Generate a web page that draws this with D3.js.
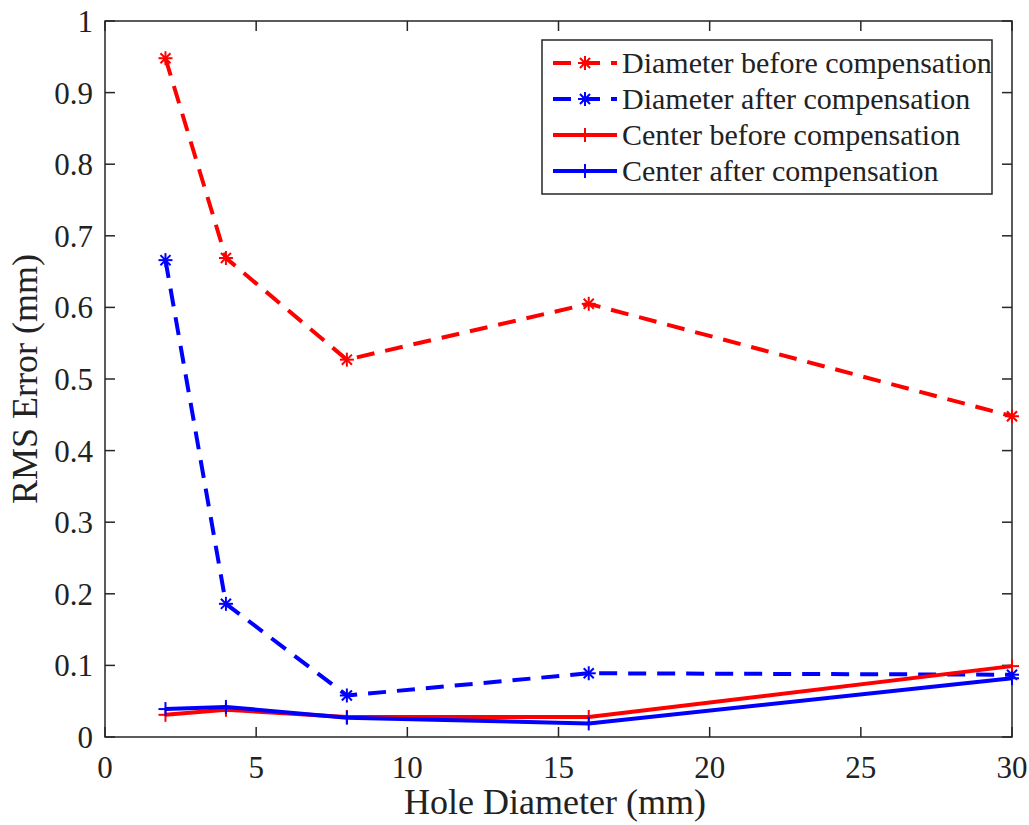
<!DOCTYPE html>
<html><head><meta charset="utf-8">
<script src="https://cdn.jsdelivr.net/npm/d3@7"></script>
<style>body{margin:0;background:#fff}svg{display:block}text{font-family:"Liberation Serif","Times New Roman",serif;fill:#222}</style>
</head><body><svg id="c" width="1029" height="825"></svg>
<script>
const xs = [2, 4, 8, 16, 30];
const diamBefore = [0.948, 0.669, 0.527, 0.605, 0.448];
const diamAfter = [0.666, 0.186, 0.058, 0.089, 0.087];
const centerBefore = [0.031, 0.038, 0.028, 0.028, 0.099];
const centerAfter = [0.039, 0.042, 0.027, 0.019, 0.082];
const xTicks = [0, 5, 10, 15, 20, 25, 30];
const yTicks = [0, 0.1, 0.2, 0.3, 0.4, 0.5, 0.6, 0.7, 0.8, 0.9, 1];
const seriesNames = ["Diameter before compensation","Diameter after compensation","Center before compensation","Center after compensation"];

const svg = d3.select("#c");
const L=105, R=1012, T=21, B=737;
const x = d3.scaleLinear().domain([0,30]).range([L,R]);
const y = d3.scaleLinear().domain([0,1]).range([B,T]);

const series = [
 {name:seriesNames[0], vals:diamBefore, color:"#ff0000", dash:"18,11", marker:"star"},
 {name:seriesNames[1], vals:diamAfter, color:"#0000ff", dash:"18,11", marker:"star"},
 {name:seriesNames[2], vals:centerBefore, color:"#ff0000", dash:null, marker:"plus"},
 {name:seriesNames[3], vals:centerAfter, color:"#0000ff", dash:null, marker:"plus"}
];

const g = svg.append("g");
g.append("rect").attr("x",L).attr("y",T).attr("width",R-L).attr("height",B-T).attr("fill","none").attr("stroke","#262626").attr("stroke-width",1.5);
const tl=10;
xTicks.forEach(t=>{
  g.append("line").attr("x1",x(t)).attr("x2",x(t)).attr("y1",B).attr("y2",B-tl).attr("stroke","#262626").attr("stroke-width",1.5);
  g.append("line").attr("x1",x(t)).attr("x2",x(t)).attr("y1",T).attr("y2",T+tl).attr("stroke","#262626").attr("stroke-width",1.5);
  g.append("text").attr("x",x(t)).attr("y",778).attr("text-anchor","middle").attr("font-size",31).text(d3.format("d")(t));
});
yTicks.forEach(t=>{
  g.append("line").attr("x1",L).attr("x2",L+tl).attr("y1",y(t)).attr("y2",y(t)).attr("stroke","#262626").attr("stroke-width",1.5);
  g.append("line").attr("x1",R).attr("x2",R-tl).attr("y1",y(t)).attr("y2",y(t)).attr("stroke","#262626").attr("stroke-width",1.5);
  g.append("text").attr("x",L-12).attr("y",y(t)+11).attr("text-anchor","end").attr("font-size",31).text(t===0||t===1?String(t):d3.format(".1f")(t));
});
g.append("text").attr("x",555).attr("y",814).attr("text-anchor","middle").attr("font-size",36).text("Hole Diameter (mm)");
g.append("text").attr("transform",`translate(37,${(T+B)/2}) rotate(-90)`).attr("text-anchor","middle").attr("font-size",36).text("RMS Error (mm)");

function drawMarker(sel, type, cx, cy, color, s){
  const gg = sel.append("g").attr("stroke",color).attr("stroke-width",2).attr("fill","none");
  if(type==="star"){
    gg.append("line").attr("x1",cx-s).attr("x2",cx+s).attr("y1",cy).attr("y2",cy);
    gg.append("line").attr("x1",cx).attr("x2",cx).attr("y1",cy-s).attr("y2",cy+s);
    const d=s*0.72;
    gg.append("line").attr("x1",cx-d).attr("x2",cx+d).attr("y1",cy-d).attr("y2",cy+d);
    gg.append("line").attr("x1",cx-d).attr("x2",cx+d).attr("y1",cy+d).attr("y2",cy-d);
  } else {
    gg.append("line").attr("x1",cx-s).attr("x2",cx+s).attr("y1",cy).attr("y2",cy);
    gg.append("line").attr("x1",cx).attr("x2",cx).attr("y1",cy-s).attr("y2",cy+s);
  }
}

const line = d3.line().x(d=>x(d[0])).y(d=>y(d[1]));
series.forEach(s=>{
  const pts = xs.map((xv,i)=>[xv,s.vals[i]]);
  svg.append("path").attr("d",line(pts)).attr("fill","none").attr("stroke",s.color).attr("stroke-width",4)
    .attr("stroke-dasharray",s.dash).attr("stroke-linejoin","round");
  pts.forEach(p=>drawMarker(svg,s.marker,x(p[0]),y(p[1]),s.color,7));
});

const lg = svg.append("g");
lg.append("rect").attr("x",542).attr("y",40).attr("width",450).attr("height",154).attr("fill","#fff").attr("stroke","#262626").attr("stroke-width",1.5);
series.forEach((s,i)=>{
  const cy = 63 + i*36;
  lg.append("line").attr("x1",553).attr("x2",617).attr("y1",cy).attr("y2",cy).attr("stroke",s.color).attr("stroke-width",4).attr("stroke-dasharray",s.dash?"18,11":null);
  drawMarker(lg,s.marker,585,cy,s.color,7);
  lg.append("text").attr("x",622).attr("y",cy+10).attr("font-size",30).text(s.name);
});
</script></body></html>
